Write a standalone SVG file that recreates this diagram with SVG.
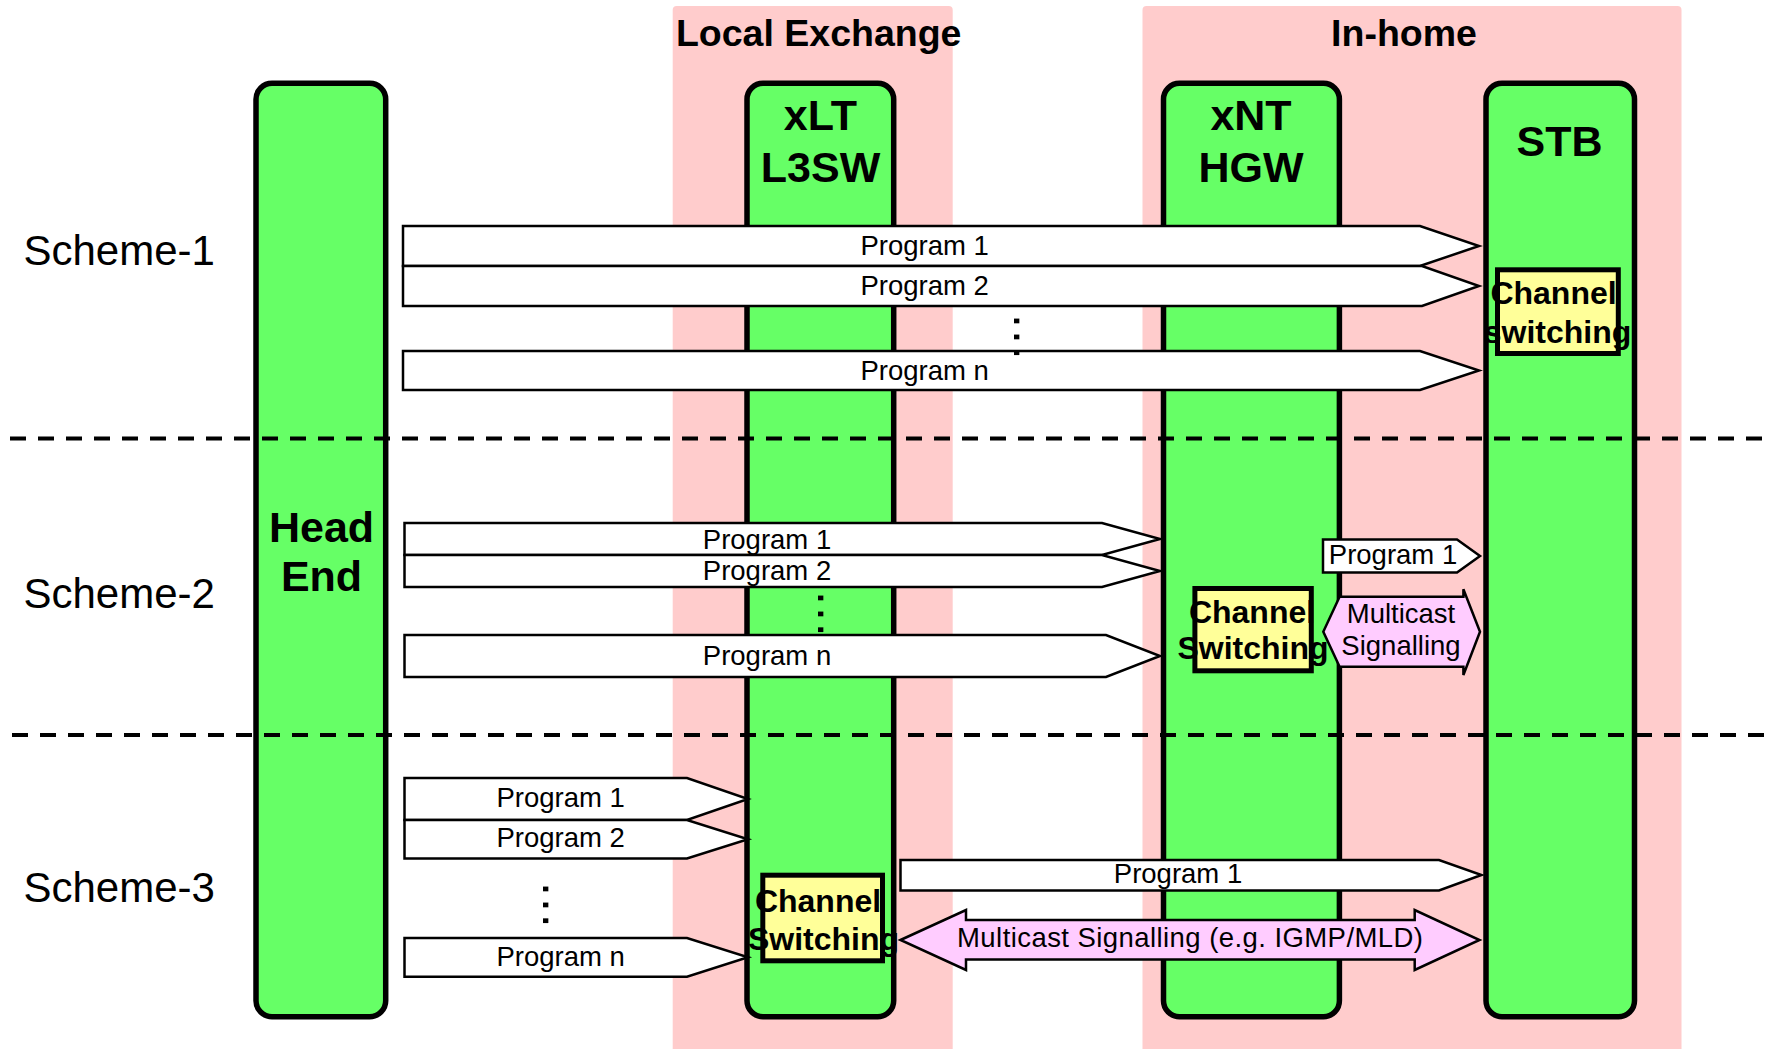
<svg xmlns="http://www.w3.org/2000/svg" width="1772" height="1049" viewBox="0 0 1772 1049">
<style>
.zone{fill:#FFCCCC}
.col{fill:#66FF66;stroke:#000;stroke-width:5.5}
.ch{fill:#FFFF99;stroke:#000;stroke-width:5}
.arr{fill:#fff;stroke:#000;stroke-width:2.5;stroke-linejoin:miter}
.mc{fill:#FFCCFF;stroke:#000;stroke-width:2.5}
.dash{stroke:#000;stroke-width:4;stroke-dasharray:16 12;fill:none}
.zt{font-family:"Liberation Sans",Arial,sans-serif;font-weight:bold;font-size:37.5px;text-anchor:middle;fill:#000}
.nt{font-family:"Liberation Sans",Arial,sans-serif;font-weight:bold;font-size:43px;text-anchor:middle;fill:#000}
.sc{font-family:"Liberation Sans",Arial,sans-serif;font-size:42px;fill:#000}
.lb{font-family:"Liberation Sans",Arial,sans-serif;font-size:27.5px;text-anchor:middle;fill:#000}
.ct{font-family:"Liberation Sans",Arial,sans-serif;font-weight:bold;font-size:32px;text-anchor:middle;fill:#000}
.dots{font-family:"Liberation Sans",Arial,sans-serif;font-size:50px;letter-spacing:2px;fill:#000}
</style>

<g id="zone-local-exchange">
<rect class="zone" x="672.7" y="6" width="280" height="1050" rx="4"/>
<text class="zt" x="818.7" y="46">Local Exchange</text>
</g>
<g id="zone-in-home">
<rect class="zone" x="1142.5" y="6" width="539" height="1050" rx="4"/>
<text class="zt" x="1404" y="46">In-home</text>
</g>

<g id="node-head-end">
<rect class="col" x="256" y="83.3" width="129.7" height="933.4" rx="16"/>
<text class="nt" x="321.5" y="541.7">Head</text>
<text class="nt" x="321.5" y="590.5">End</text>
</g>
<g id="node-xlt">
<rect class="col" x="747" y="83.3" width="146.7" height="933.4" rx="16"/>
<text class="nt" x="820.5" y="130">xLT</text>
<text class="nt" x="820.5" y="181.7">L3SW</text>
</g>
<g id="node-xnt">
<rect class="col" x="1163.5" y="83.3" width="175.9" height="933.4" rx="16"/>
<text class="nt" x="1251" y="130">xNT</text>
<text class="nt" x="1251" y="181.7">HGW</text>
</g>
<g id="node-stb">
<rect class="col" x="1486" y="83.3" width="148.5" height="933.4" rx="16"/>
<text class="nt" x="1559.5" y="156">STB</text>
</g>

<g id="scheme-labels">
<text class="sc" x="23.5" y="264.5">Scheme-1</text>
<text class="sc" x="23.5" y="608">Scheme-2</text>
<text class="sc" x="23.5" y="901.5">Scheme-3</text>
</g>

<g id="separators">
<line class="dash" x1="10" y1="438.5" x2="1772" y2="438.5"/>
<line class="dash" x1="12" y1="735" x2="1772" y2="735"/>
</g>

<g id="connectors">
<!-- Scheme 1 -->
<polygon class="arr" points="403,226 1420,226 1479,246 1420,266 403,266"/>
<text class="lb" x="924.6" y="255">Program 1</text>
<polygon class="arr" points="403,266 1422,266 1479,286 1422,306 403,306"/>
<text class="lb" x="924.6" y="295">Program 2</text>
<polygon class="arr" points="403,351 1420,351 1479,370.5 1420,390 403,390"/>
<text class="lb" x="924.6" y="379.5">Program n</text>
<text class="dots" transform="translate(1013.5,314) rotate(90)">...</text>

<!-- Scheme 2 -->
<polygon class="arr" points="404.5,523 1102,523 1160,539 1102,555 404.5,555"/>
<text class="lb" x="767" y="548.5">Program 1</text>
<polygon class="arr" points="404.5,555 1102,555 1160,571 1102,587 404.5,587"/>
<text class="lb" x="767" y="579.5">Program 2</text>
<polygon class="arr" points="404.5,635 1106,635 1160,656 1106,677 404.5,677"/>
<text class="lb" x="767" y="664.5">Program n</text>
<text class="dots" transform="translate(817.5,591) rotate(90)">...</text>

<polygon class="arr" points="1323,539.5 1457,539.5 1480,556 1457,572.5 1323,572.5"/>
<text class="lb" x="1393" y="564">Program 1</text>
<polygon class="mc" points="1323.3,631.7 1339.6,596.7 1463.4,596.7 1463.4,589.3 1480,631.7 1463.4,675 1463.4,666.7 1339.6,666.7"/>
<text class="lb" x="1401" y="623">Multicast</text>
<text class="lb" x="1401" y="655">Signalling</text>

<!-- Scheme 3 -->
<polygon class="arr" points="404.5,778 687,778 748,799 687,820 404.5,820"/>
<text class="lb" x="560.7" y="806.7">Program 1</text>
<polygon class="arr" points="404.5,820 687,820 748,839.3 687,858.5 404.5,858.5"/>
<text class="lb" x="560.7" y="846.7">Program 2</text>
<polygon class="arr" points="404.5,938 687,938 748,957.3 687,976.7 404.5,976.7"/>
<text class="lb" x="560.7" y="965.5">Program n</text>
<text class="dots" transform="translate(542.5,882) rotate(90)">...</text>

<polygon class="arr" points="900.5,860 1439,860 1481.5,875 1439,890.5 900.5,890.5"/>
<text class="lb" x="1178" y="883">Program 1</text>
<polygon class="mc" points="900.5,940 966,910 966,920 1414.7,920 1414.7,910 1479.5,940 1414.7,970 1414.7,959.5 966,959.5 966,970"/>
<text class="lb" x="1190" y="946.5" textLength="466" lengthAdjust="spacing">Multicast Signalling (e.g. IGMP/MLD)</text>
</g>

<g id="node-ch-stb">
<rect class="ch" x="1497.5" y="269.8" width="120.8" height="83.7"/>
<text class="ct" x="1553.5" y="304">Channel</text>
<text class="ct" x="1557.5" y="342.7">switching</text>
</g>
<g id="node-ch-xnt">
<rect class="ch" x="1194.9" y="588.5" width="116.4" height="82.3"/>
<text class="ct" x="1252" y="623.3">Channel</text>
<text class="ct" x="1253" y="659.3">Switching</text>
</g>
<g id="node-ch-xlt">
<rect class="ch" x="762.8" y="875.2" width="119.7" height="85.6"/>
<text class="ct" x="818" y="911.7">Channel</text>
<text class="ct" x="823.5" y="950">Switching</text>
</g>
</svg>
